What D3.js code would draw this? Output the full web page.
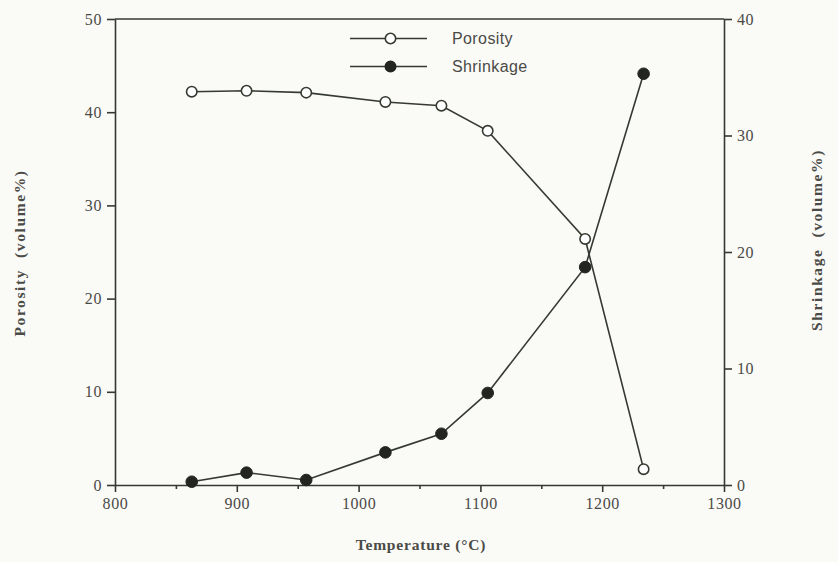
<!DOCTYPE html>
<html>
<head>
<meta charset="utf-8">
<script src="https://cdn.jsdelivr.net/npm/d3@7"></script>
<style>
  body { margin: 0; background: #fafaf7; }
  svg { display: block; }
</style>
</head>
<body>
<svg id="chart" width="838" height="562"></svg>
<script>
// temperature of each measurement (°C)
var temperature = [863, 908, 957, 1022, 1068, 1106, 1186, 1234];
var porosity = [42.2, 42.3, 42.1, 41.1, 40.7, 38.0, 26.4, 1.7];
var shrinkage = [0.28, 1.06, 0.43, 2.8, 4.4, 7.9, 18.7, 35.3];

var xTicks = [800, 900, 1000, 1100, 1200, 1300];
var xMinorTicks = [850, 950, 1050, 1150, 1250];
var leftTicks = [0, 10, 20, 30, 40, 50];
var rightTicks = [0, 10, 20, 30, 40];

var ink = '#353a31';
var labelInk = '#4a4a46';

var svg = d3.select('#chart');
var plotLeft = 115, plotRight = 724, plotTop = 19, plotBottom = 485;

var x = d3.scaleLinear().domain([800, 1300]).range([plotLeft, plotRight]);
var yL = d3.scaleLinear().domain([0, 50]).range([plotBottom, plotTop]);
var yR = d3.scaleLinear().domain([0, 40]).range([plotBottom, plotTop]);

// frame top line
svg.append('line')
  .attr('x1', plotLeft).attr('x2', plotRight)
  .attr('y1', plotTop).attr('y2', plotTop)
  .attr('stroke', ink).attr('stroke-width', 1.6);

function styleAxis(g) {
  g.selectAll('path, line').attr('stroke', ink).attr('stroke-width', 1.6);
  g.selectAll('text')
    .attr('fill', labelInk)
    .style('font-family', '"Liberation Serif", "Times New Roman", serif')
    .style('font-size', '16px')
    .style('letter-spacing', '0.6px');
}

svg.append('g')
  .attr('transform', 'translate(0,' + plotBottom + ')')
  .call(d3.axisBottom(x).tickValues(xMinorTicks).tickSize(4).tickFormat(''))
  .call(function (g) { g.select('.domain').remove(); })
  .call(styleAxis);

svg.append('g')
  .attr('transform', 'translate(0,' + plotBottom + ')')
  .call(d3.axisBottom(x).tickValues(xTicks).tickSize(7).tickSizeOuter(0).tickPadding(6).tickFormat(d3.format('d')))
  .call(styleAxis);

svg.append('g')
  .attr('transform', 'translate(' + plotLeft + ',0)')
  .call(d3.axisLeft(yL).tickValues(leftTicks).tickSize(8).tickSizeOuter(0).tickPadding(5))
  .call(styleAxis);

svg.append('g')
  .attr('transform', 'translate(' + plotRight + ',0)')
  .call(d3.axisRight(yR).tickValues(rightTicks).tickSize(8).tickSizeOuter(0).tickPadding(5))
  .call(styleAxis);

// axis titles
var titleFont = '"Liberation Serif", "Times New Roman", serif';
svg.append('text')
  .attr('x', 421).attr('y', 550)
  .attr('text-anchor', 'middle')
  .attr('fill', labelInk)
  .style('font-family', titleFont).style('font-size', '15.5px').style('font-weight', 'bold')
  .style('letter-spacing', '0.8px')
  .text('Temperature (°C)');

svg.append('text')
  .attr('transform', 'translate(25,253) rotate(-90)')
  .attr('text-anchor', 'middle')
  .attr('fill', labelInk)
  .style('font-family', titleFont).style('font-size', '15.5px').style('font-weight', 'bold')
  .style('letter-spacing', '1.6px')
  .style('white-space', 'pre')
  .text('Porosity  (volume%)');

svg.append('text')
  .attr('transform', 'translate(822,240) rotate(-90)')
  .attr('text-anchor', 'middle')
  .attr('fill', labelInk)
  .style('font-family', titleFont).style('font-size', '15.5px').style('font-weight', 'bold')
  .style('letter-spacing', '1.6px')
  .style('white-space', 'pre')
  .text('Shrinkage  (volume%)');

// series
var porData = temperature.map(function (t, i) { return [t, porosity[i]]; });
var shrData = temperature.map(function (t, i) { return [t, shrinkage[i]]; });

var porLine = d3.line().x(function (d) { return x(d[0]); }).y(function (d) { return yL(d[1]); });
var shrLine = d3.line().x(function (d) { return x(d[0]); }).y(function (d) { return yR(d[1]); });

svg.append('path').datum(porData)
  .attr('d', porLine).attr('fill', 'none')
  .attr('stroke', ink).attr('stroke-width', 1.6);

svg.append('path').datum(shrData)
  .attr('d', shrLine).attr('fill', 'none')
  .attr('stroke', ink).attr('stroke-width', 1.6);

svg.selectAll('.por-dot').data(porData).enter()
  .append('circle').attr('class', 'por-dot')
  .attr('cx', function (d) { return x(d[0]); })
  .attr('cy', function (d) { return yL(d[1]); })
  .attr('r', 5.2)
  .attr('fill', '#fff').attr('stroke', ink).attr('stroke-width', 1.6);

svg.selectAll('.shr-dot').data(shrData).enter()
  .append('circle').attr('class', 'shr-dot')
  .attr('cx', function (d) { return x(d[0]); })
  .attr('cy', function (d) { return yR(d[1]); })
  .attr('r', 5.8)
  .attr('fill', '#222520').attr('stroke', '#222520').attr('stroke-width', 1);

// legend
var legend = svg.append('g');
var legendItems = [
  { name: 'Porosity', fill: '#fff', y: 38.5 },
  { name: 'Shrinkage', fill: '#222520', y: 66.5 }
];
legendItems.forEach(function (item) {
  legend.append('line')
    .attr('x1', 350).attr('x2', 427)
    .attr('y1', item.y).attr('y2', item.y)
    .attr('stroke', ink).attr('stroke-width', 1.6);
  legend.append('circle')
    .attr('cx', 390.5).attr('cy', item.y).attr('r', 5.2)
    .attr('fill', item.fill).attr('stroke', item.fill === '#fff' ? ink : '#222520')
    .attr('stroke-width', 1.6);
  legend.append('text')
    .attr('x', 452).attr('y', item.y + 5.5)
    .attr('fill', labelInk)
    .style('font-family', '"Liberation Sans", Arial, sans-serif')
    .style('font-size', '16px')
    .style('letter-spacing', '0.4px')
    .text(item.name);
});
</script>
</body>
</html>
